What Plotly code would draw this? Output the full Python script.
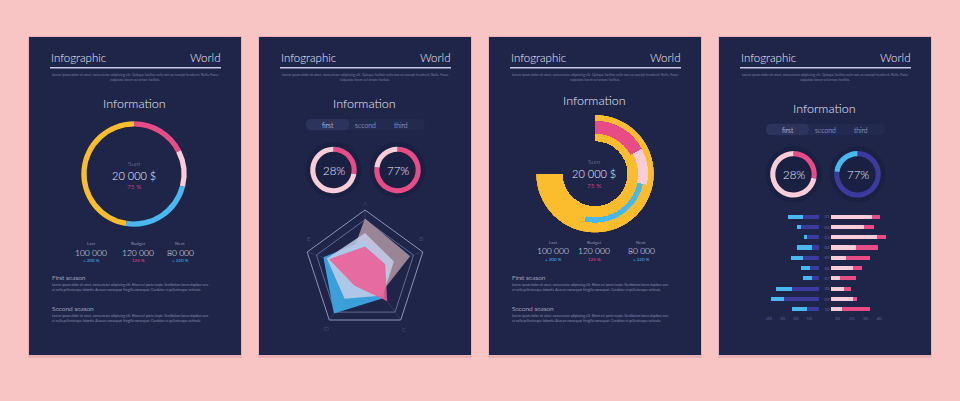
import plotly.graph_objects as go

W, H = 960, 401
def X(p): return p / W
def Y(p): return 1 - p / H

# ---------------- data ----------------
ring_labels = ["Pink", "Light pink", "Blue", "Yellow"]
ring_values = [17.5, 11.5, 23.5, 47.5]            # panel 1 donut (share of circle)
sum_label = "20 000 $"
sum_pct = "75 %"
stat_names = ["Last", "Budget", "Next"]
stat_values = ["100 000", "120 000", "80 000"]
stat_changes = ["+ 200 %", "125 %", "+ 220 %"]
gauge_values = [28, 77]                              # small donuts (percent)
tabs = ["first", "second", "third"]
radar_axes = ["A", "B", "C", "D", "E"]
radar_mauve = [0.86, 0.78, 0.45, 0.30, 0.30]
radar_blue = [0.50, 0.30, 0.55, 0.87, 0.72]
radar_lavender = [0.62, 0.50, 0.50, 0.57, 0.66]
radar_pink = [0.40, 0.35, 0.62, 0.30, 0.62]
arc_labels = ["Pink", "Light pink", "Blue"]
arc_extent = [62, 40, 90]                            # degrees of panel 3 inner bars
arc_total = 270                                      # degrees of yellow arc
rows = ["01", "02", "03", "04", "05", "06", "07", "08", "09", "10"]
left_dark = [12, 13, 9, 5.5, 12, 7, 5, 20, 25.5, 9]
left_light = [11, 3.5, 2.5, 11, 9, 6.5, 7, 11.5, 9.5, 11]
right_light = [30, 24.5, 34, 18.5, 11, 16.5, 7, 10, 16.5, 8]
right_pink = [6, 7, 6, 16, 18, 6, 11.5, 5, 3, 21]
left_ticks = ["-40", "-30", "-20", "-10"]
right_ticks = ["10", "20", "30", "40"]

# ---------------- style ----------------
BG = "#f8c5c4"
NAVY = "#1e2549"
WHITE = "#eceaf8"
GREY = "#8b90b3"
PINK = "#e84c87"
LPINK = "#f8cdd7"
BLUE = "#4ab7ee"
YELLOW = "#fbbd2e"
INDIGO = "#3a3b9c"
MAUVE = "#a08a9b"
LAV = "#c3cdea"
FONT = "Lato"

PANEL_LEFTS = [29, 259, 489, 719]
PT, PB, PW = 37, 355, 212

fig = go.Figure()
shapes, ann = [], []

def txt(x, y, s, size, color, anchor="center", weight=300):
    ann.append(dict(x=X(x), y=Y(y), xref="paper", yref="paper", text=s,
                    showarrow=False, font=dict(size=size, color=color, family=FONT, weight=weight),
                    xanchor=anchor, yanchor="middle"))

def rrect(x0, y0, x1, y1, r, fill):
    p = (f"M {X(x0+r)},{Y(y0)} L {X(x1-r)},{Y(y0)} Q {X(x1)},{Y(y0)} {X(x1)},{Y(y0+r)} "
         f"L {X(x1)},{Y(y1-r)} Q {X(x1)},{Y(y1)} {X(x1-r)},{Y(y1)} "
         f"L {X(x0+r)},{Y(y1)} Q {X(x0)},{Y(y1)} {X(x0)},{Y(y1-r)} "
         f"L {X(x0)},{Y(y0+r)} Q {X(x0)},{Y(y0)} {X(x0+r)},{Y(y0)} Z")
    shapes.append(dict(type="path", path=p, xref="paper", yref="paper",
                       fillcolor=fill, line=dict(width=0), layer="below"))

def dom(cx, cy, r):
    return dict(x=[X(cx - r), X(cx + r)], y=[Y(cy + r), Y(cy - r)])

LOREM1 = "Lorem ipsum dolor sit amet, consectetur adipiscing elit. Quisque facilisis nulla non ex suscipit hendrerit. Nulla. Fusce"
LOREM2 = "vulputate lorem vel ornare facilisis."
SEAS1 = "Lorem ipsum dolor sit amet, consectetur adipiscing elit. Etiam vel porta turpis. Vestibulum lorem dapibus sem"
SEAS2 = "et nulla pellentesque lobortis. Aenean consequat fringilla consequat. Curabitur et pellentesque vehicula."

# panels + headers
for L in PANEL_LEFTS:
    shapes.append(dict(type="rect", xref="paper", yref="paper", x0=X(L - 1), x1=X(L + PW + 1),
                       y0=Y(PB + 3), y1=Y(PT - 1), fillcolor="rgba(170,90,110,0.18)",
                       line=dict(width=0), layer="below"))
    shapes.append(dict(type="rect", xref="paper", yref="paper", x0=X(L), x1=X(L + PW),
                       y0=Y(PB), y1=Y(PT), fillcolor=NAVY, line=dict(width=0), layer="below"))
    txt(L + 20, 57, "Infographic", 11.5, WHITE, "left")
    txt(L + 193, 57, "World", 11.5, WHITE, "right")
    shapes.append(dict(type="line", xref="paper", yref="paper", x0=X(L + 21), x1=X(L + 192),
                       y0=Y(67.7), y1=Y(67.7), line=dict(color="#c9c8ea", width=1.4)))
    txt(L + 106, 75.3, LOREM1, 3.3, "#7b80a6", weight=400)
    txt(L + 106, 80, LOREM2, 3.3, "#7b80a6", weight=400)

# info titles
for L, ty in zip(PANEL_LEFTS, [103, 103, 100, 108]):
    txt(L + 105, ty, "Information", 12.5, WHITE)

# ---- panel 1 donut ----
fig.add_trace(go.Pie(labels=ring_labels, values=ring_values, hole=0.9, sort=False,
                     direction="clockwise", rotation=0, textinfo="none", hoverinfo="skip",
                     marker=dict(colors=[PINK, LPINK, BLUE, YELLOW], line=dict(width=0)),
                     domain=dom(134, 174, 52.7), showlegend=False))

# sum texts, stats and seasons for panels 1 and 3
for L, cy0, stx, sty in [(29, 0, [91, 138, 180], 0), (489, -1.7, [553, 594, 641], -1.5)]:
    cx = L + 105
    txt(cx, 163 + cy0, "Sum", 6.5, GREY)
    txt(cx, 175 + cy0, sum_label, 11, WHITE)
    txt(cx, 187 + cy0, sum_pct, 6.5, "#c2417f", weight=400)
    for x, n, v, c in zip(stx, stat_names, stat_values, stat_changes):
        txt(x, 244 + sty, n, 4.5, GREY, weight=400)
        txt(x, 253 + sty, v, 8.5, WHITE)
        txt(x, 260.5 + sty, c, 4.5, PINK if not c.startswith("+") else BLUE, weight=400)
    txt(L + 21, 277, "First season", 6.5, WHITE, "left")
    txt(L + 21, 285.3, SEAS1, 3.3, "#8b90b3", "left", 400)
    txt(L + 21, 290.3, SEAS2, 3.3, "#8b90b3", "left", 400)
    txt(L + 21, 308, "Second season", 6.5, WHITE, "left")
    txt(L + 21, 316, SEAS1, 3.3, "#8b90b3", "left", 400)
    txt(L + 21, 321, SEAS2, 3.3, "#8b90b3", "left", 400)

# ---- tabs + gauges for panels 2 and 4 ----
for L, ty, gy, cols in [(259, 124.5, 170, [(PINK, LPINK), (PINK, LPINK)]),
                        (719, 129.5, 174.3, [(PINK, LPINK), (INDIGO, BLUE)])]:
    rrect(L + 47, ty - 5.8, L + 166, ty + 5.8, 5.5, "#232a50")
    rrect(L + 47, ty - 5.8, L + 90, ty + 5.8, 5.5, "#2c345d")
    for tx, t in zip([L + 69, L + 106, L + 142], tabs):
        txt(tx, ty, t, 6.8, WHITE if t == "first" else "#c8c9e0")
    for gx, v, (c1, c2) in zip([L + 74.5, L + 138.5], gauge_values, cols):
        shapes.append(dict(type="circle", xref="paper", yref="paper", x0=X(gx - 28), x1=X(gx + 28),
                           y0=Y(gy + 28), y1=Y(gy - 28), fillcolor="#1a2042",
                           line=dict(width=0), layer="below"))
        fig.add_trace(go.Pie(values=[v, 100 - v], labels=["value", "rest"], hole=0.78, sort=False,
                             direction="clockwise", rotation=0, textinfo="none", hoverinfo="skip",
                             marker=dict(colors=[c1, c2], line=dict(width=0)),
                             domain=dom(gx, gy, 23.3), showlegend=False))
        txt(gx, gy, f"{v}%", 11.5, WHITE)

# ---- radar (panel 2) ----
RCX, RCY, RR = 365, 270.8, 60.8
theta = radar_axes + [radar_axes[0]]
for vals, col, op in [(radar_mauve, MAUVE, 0.95), (radar_blue, "#3da6e2", 0.95),
                      (radar_lavender, LAV, 0.85), (radar_pink, "#ee5a94", 0.85)]:
    fig.add_trace(go.Scatterpolar(r=vals + [vals[0]], theta=theta, fill="toself", fillcolor=col,
                                  opacity=op, mode="lines", line=dict(width=0, color=col),
                                  hoverinfo="skip", showlegend=False, subplot="polar"))
for lab, lx, ly in zip(radar_axes, [365, 421, 404, 326, 309], [203, 239, 329, 328, 239]):
    txt(lx, ly, lab, 6.5, "#5f6590")

# ---- arc chart (panel 3) ----
ACX, ACY, AR = 595, 173.7, 59
fig.add_trace(go.Barpolar(r=[0.45], base=[0.55], theta=[arc_total / 2], width=[arc_total],
                          marker=dict(color=YELLOW, line=dict(width=0)), hoverinfo="skip",
                          showlegend=False, subplot="polar2"))
start = 0
arc_style = [(PINK, 0.68, 0.22), (LPINK, 0.73, 0.17), (BLUE, 0.74, 0.09)]
for ext, (col, b, rr) in zip(arc_extent, arc_style):
    fig.add_trace(go.Barpolar(r=[rr], base=[b], theta=[start + ext / 2], width=[ext],
                              marker=dict(color=col, line=dict(width=0)), hoverinfo="skip",
                              showlegend=False, subplot="polar2"))
    start += ext

# ---- butterfly bars (panel 4) ----
ypos = list(range(1, len(rows) + 1))
fig.add_trace(go.Bar(y=ypos, x=left_dark, orientation="h", marker=dict(color=INDIGO, line=dict(width=0)),
                     xaxis="x2", yaxis="y2", hoverinfo="skip", showlegend=False))
fig.add_trace(go.Bar(y=ypos, x=left_light, orientation="h", marker=dict(color=BLUE, line=dict(width=0)),
                     xaxis="x2", yaxis="y2", hoverinfo="skip", showlegend=False))
fig.add_trace(go.Bar(y=ypos, x=right_light, orientation="h", marker=dict(color=LPINK, line=dict(width=0)),
                     xaxis="x3", yaxis="y3", hoverinfo="skip", showlegend=False))
fig.add_trace(go.Bar(y=ypos, x=right_pink, orientation="h", marker=dict(color=PINK, line=dict(width=0)),
                     xaxis="x3", yaxis="y3", hoverinfo="skip", showlegend=False))

PXU = 1.37
LX0, LX1 = 766, 819.3
RX0, RX1 = 830.7, 887
ytop, ybot = 211.5, 314.4
tickfont = dict(size=4.5, color="#5d6390", family=FONT)

fig.update_layout(
    width=W, height=H, margin=dict(l=0, r=0, t=0, b=0),
    paper_bgcolor=BG, plot_bgcolor="rgba(0,0,0,0)",
    barmode="stack", bargap=0.6, showlegend=False,
    shapes=shapes, annotations=ann,
    polar=dict(domain=dom(RCX, RCY, RR), bgcolor="rgba(0,0,0,0)", gridshape="linear",
               radialaxis=dict(range=[0, 1], tickvals=[0.84], showticklabels=False, ticks="",
                               showline=False, gridcolor="#646a98", gridwidth=0.8),
               angularaxis=dict(rotation=90, direction="clockwise", showticklabels=False, ticks="",
                                showline=True, linecolor="#8d92bb", linewidth=1,
                                gridcolor="rgba(120,125,170,0.25)")),
    polar2=dict(domain=dom(ACX, ACY, AR), bgcolor="rgba(0,0,0,0)", barmode="overlay", bargap=0,
                radialaxis=dict(range=[0, 1], visible=False),
                angularaxis=dict(rotation=90, direction="clockwise", visible=False)),
    xaxis=dict(visible=False, domain=[0, 0.01]), yaxis=dict(visible=False, domain=[0, 0.01]),
    xaxis2=dict(domain=[X(LX0), X(LX1)], range=[(LX1 - LX0) / PXU, 0], anchor="y2",
                tickvals=[(LX1 - p) / PXU for p in [768.3, 781.7, 795, 808.3]], ticktext=left_ticks,
                showgrid=False, zeroline=False, showline=False, ticks="", tickfont=tickfont),
    yaxis2=dict(domain=[Y(ybot), Y(ytop)], range=[10.5, 0.5], anchor="x2", visible=False),
    xaxis3=dict(domain=[X(RX0), X(RX1)], range=[0, (RX1 - RX0) / PXU], anchor="y3",
                tickvals=[(p - RX0) / PXU for p in [837.3, 851.7, 865.3, 879]], ticktext=right_ticks,
                showgrid=False, zeroline=False, showline=False, ticks="", tickfont=tickfont),
    yaxis3=dict(domain=[Y(ybot), Y(ytop)], range=[10.5, 0.5], anchor="x3",
                tickvals=ypos, ticktext=rows, ticks="", showgrid=False, zeroline=False,
                showline=False, tickfont=tickfont),
)

fig.write_html("out.html", config={"displayModeBar": False},
               post_script="document.body.style.margin='0';document.body.style.padding='0';")
